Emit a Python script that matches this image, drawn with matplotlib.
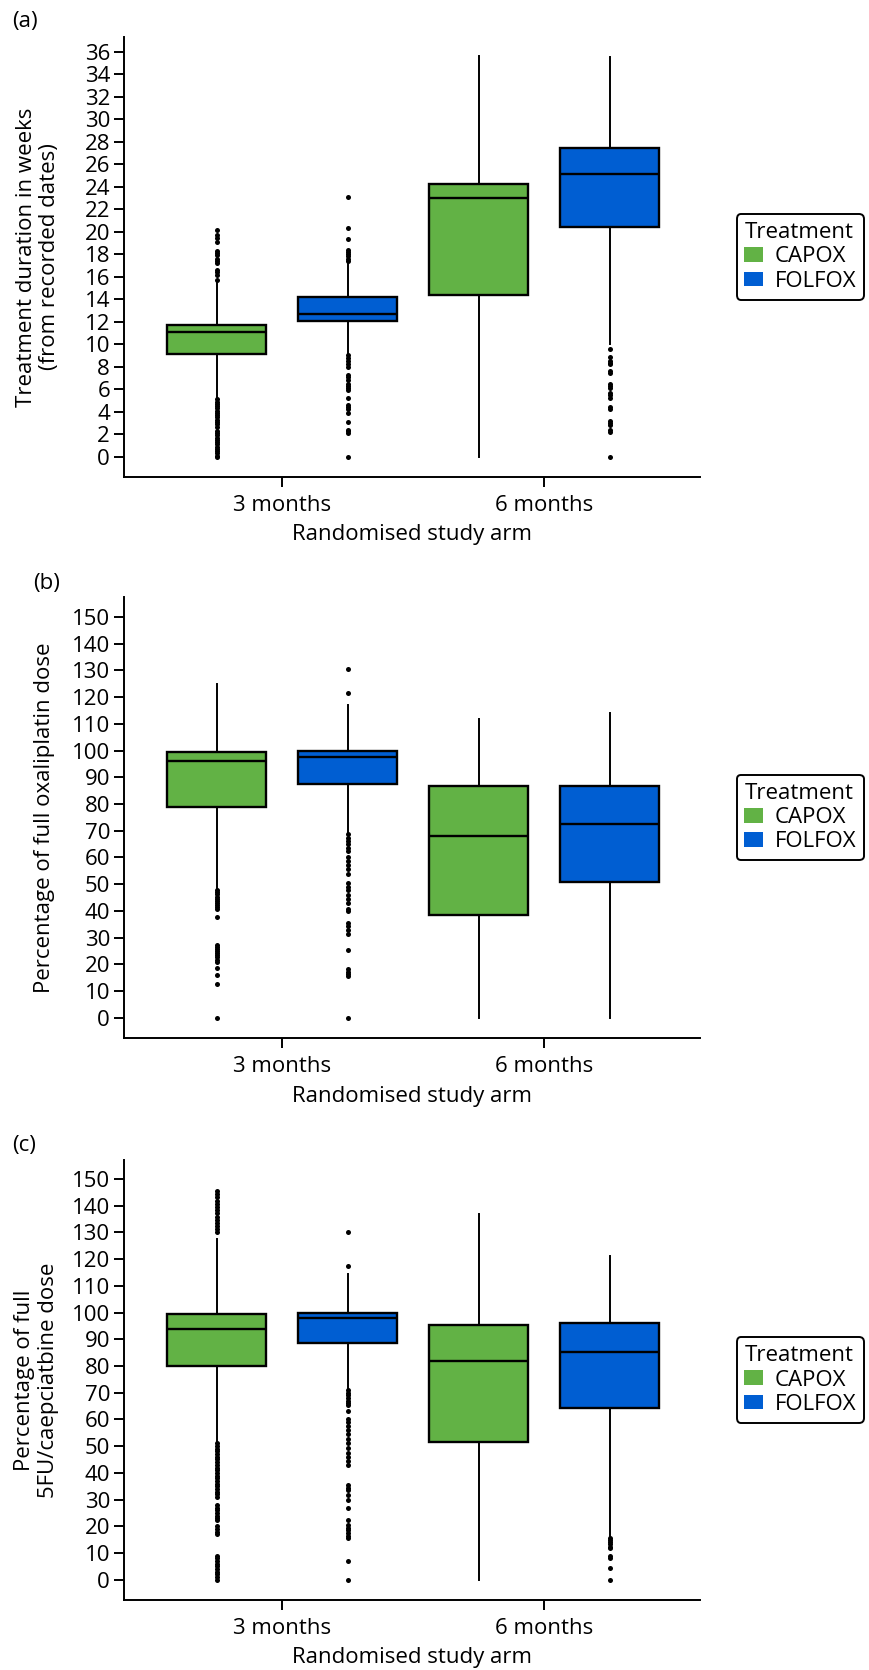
import matplotlib
matplotlib.use("Agg")
import matplotlib.pyplot as plt
from matplotlib.patches import Patch

plt.rcParams['font.family'] = ['Open Sans', 'DejaVu Sans']

# ---------------- data ----------------
arms = ["3 months", "6 months"]
treatments = ["CAPOX", "FOLFOX"]
colors = {"CAPOX": "#62B245", "FOLFOX": "#005ED2"}

# Panel (a): treatment duration in weeks
a_q1 = {"CAPOX": [9.1, 14.4], "FOLFOX": [12.1, 20.4]}
a_med = {"CAPOX": [11.1, 23.0], "FOLFOX": [12.7, 25.1]}
a_q3 = {"CAPOX": [11.7, 24.2], "FOLFOX": [14.15, 27.4]}
a_lo = {"CAPOX": [5.2, 0.0], "FOLFOX": [9.1, 10.0]}
a_hi = {"CAPOX": [15.5, 35.6], "FOLFOX": [17.2, 35.5]}
a_out = {
    "CAPOX": [
        [20.1, 19.7, 19.4, 19.1, 18.3, 18.1, 17.9, 17.6, 17.4, 17.2, 16.6, 16.4, 16.1, 15.7,
         5.1, 4.9, 4.7, 4.5, 4.3, 4.1, 3.9, 3.7, 3.5, 3.3, 3.1, 2.9, 2.6, 2.3, 2.1, 1.9,
         1.7, 1.5, 1.3, 1.1, 0.9, 0.7, 0.5, 0.3, 0.1, 0.0],
        [],
    ],
    "FOLFOX": [
        [23.1, 20.3, 19.3, 18.4, 18.2, 18.0, 17.8, 17.6, 17.4,
         9.0, 8.8, 8.5, 8.2, 8.0, 7.3, 7.1, 6.8, 6.5, 6.3, 6.1, 5.9, 5.2, 4.6, 4.4, 4.2,
         3.9, 3.1, 2.4, 2.3, 2.1, 0.0],
        [9.6, 8.9, 8.5, 8.3, 8.2, 7.6, 7.4, 6.5, 6.3, 6.1, 5.7, 5.5, 5.2, 4.4, 4.2,
         3.2, 3.0, 2.8, 2.4, 2.2, 0.0],
    ],
}

# Panel (b): percentage of full oxaliplatin dose
b_q1 = {"CAPOX": [78.8, 38.6], "FOLFOX": [87.4, 50.8]}
b_med = {"CAPOX": [95.9, 68.0], "FOLFOX": [97.7, 72.5]}
b_q3 = {"CAPOX": [99.5, 86.9], "FOLFOX": [99.9, 86.8]}
b_lo = {"CAPOX": [48.5, 0.0], "FOLFOX": [69.3, 0.0]}
b_hi = {"CAPOX": [125.0, 111.9], "FOLFOX": [117.0, 114.1]}
b_out = {
    "CAPOX": [
        [47.8, 47.0, 46.2, 45.4, 44.6, 43.8, 43.0, 42.2, 41.4, 40.6, 37.6,
         27.4, 26.6, 25.8, 25.0, 24.2, 23.4, 22.6, 21.8, 21.0, 18.6, 16.0, 12.6, 0.0],
        [],
    ],
    "FOLFOX": [
        [130.3, 121.4,
         68.7, 67.4, 66.2, 64.9, 63.6, 62.4, 60.1, 58.6, 57.1, 55.6, 54.0, 50.4, 49.1,
         47.9, 46.0, 44.5, 42.8, 40.9, 39.8, 35.6, 34.2, 32.7, 31.2, 25.4,
         18.4, 17.2, 16.4, 15.5, 0.0],
        [],
    ],
}

# Panel (c): percentage of full 5FU/capecitabine dose
c_q1 = {"CAPOX": [80.1, 51.5], "FOLFOX": [88.6, 64.2]}
c_med = {"CAPOX": [93.9, 81.8], "FOLFOX": [98.0, 85.3]}
c_q3 = {"CAPOX": [99.3, 95.2], "FOLFOX": [99.9, 96.1]}
c_lo = {"CAPOX": [51.5, 0.0], "FOLFOX": [71.5, 16.2]}
c_hi = {"CAPOX": [127.5, 137.0], "FOLFOX": [114.6, 121.0]}
c_out = {
    "CAPOX": [
        [145.5, 144.3, 143.1, 141.9, 140.7, 139.5, 138.3, 137.1, 135.9, 134.7, 133.5,
         132.3, 131.1, 130.0,
         51.0, 50.0, 49.0, 48.0, 47.0, 46.0, 45.0, 44.0, 43.0, 42.0, 41.0, 40.0, 39.0,
         38.0, 37.0, 36.0, 35.0, 34.0, 33.0, 32.0, 31.0,
         28.0, 27.0, 26.0, 25.0, 24.0, 23.0, 22.5, 20.0, 19.0, 18.0, 17.0,
         8.7, 8.0, 7.0, 6.0, 5.0, 4.0, 3.0, 2.0, 1.0, 0.0],
        [],
    ],
    "FOLFOX": [
        [130.3, 117.3,
         71.0, 70.0, 69.0, 68.0, 67.0, 66.0, 65.5, 63.2, 60.1, 59.0, 57.5, 56.0, 54.4,
         52.5, 51.0, 49.4, 47.5, 46.0, 44.5, 43.1, 35.6, 34.5, 33.4, 31.8, 29.9, 26.8,
         22.4, 20.5, 19.5, 18.6, 17.4, 16.5, 15.8, 7.0, 0.0],
        [15.6, 14.8, 14.0, 13.2, 12.4, 11.8, 8.7, 8.0, 4.3, 0.0],
    ],
}

panels = [
    dict(tag="(a)", q1=a_q1, med=a_med, q3=a_q3, lo=a_lo, hi=a_hi, out=a_out,
         ylabel="Treatment duration in weeks\n(from recorded dates)",
         yticks=list(range(0, 37, 2)), ylim=(-1.8, 37.3),
         rect=[0.1427, 0.7144, 0.6628, 0.2635], tagpos=(12, 22), labx=-0.149),
    dict(tag="(b)", q1=b_q1, med=b_med, q3=b_q3, lo=b_lo, hi=b_hi, out=b_out,
         ylabel="Percentage of full oxaliplatin dose",
         yticks=list(range(0, 151, 10)), ylim=(-7.6, 157.4),
         rect=[0.1427, 0.3783, 0.6628, 0.2642], tagpos=(33, 583), labx=-0.138),
    dict(tag="(c)", q1=c_q1, med=c_med, q3=c_q3, lo=c_lo, hi=c_hi, out=c_out,
         ylabel="Percentage of full\n5FU/caepciatbine dose",
         yticks=list(range(0, 151, 10)), ylim=(-7.6, 157.1),
         rect=[0.1427, 0.0419, 0.6628, 0.2635], tagpos=(12, 1145), labx=-0.152),
]

W, H = 869, 1670
fig = plt.figure(figsize=(W / 100, H / 100), dpi=100)

offsets = {"CAPOX": -0.25, "FOLFOX": 0.25}
FS = 16

for p in panels:
    ax = fig.add_axes(p["rect"])
    for t in treatments:
        for i, arm in enumerate(arms):
            st = dict(med=p["med"][t][i], q1=p["q1"][t][i], q3=p["q3"][t][i],
                      whislo=p["lo"][t][i], whishi=p["hi"][t][i],
                      fliers=p["out"][t][i])
            ax.bxp([st], positions=[i + offsets[t]], widths=0.38,
                   patch_artist=True, showcaps=False,
                   boxprops=dict(facecolor=colors[t], edgecolor="black", linewidth=1.7),
                   medianprops=dict(color="black", linewidth=1.7),
                   whiskerprops=dict(color="black", linewidth=1.4),
                   flierprops=dict(marker="o", markersize=3.6,
                                   markerfacecolor="black", markeredgecolor="none"),
                   manage_ticks=False)
    ax.set_xlim(-0.603, 1.595)
    ax.set_ylim(*p["ylim"])
    ax.set_yticks(p["yticks"])
    ax.set_xticks([0, 1])
    ax.set_xticklabels(arms)
    for s in ["top", "right"]:
        ax.spines[s].set_visible(False)
    for s in ["left", "bottom"]:
        ax.spines[s].set_linewidth(1.4)
    ax.tick_params(axis="both", labelsize=FS, width=1.4, length=7, pad=3)
    ax.tick_params(axis="x", pad=6)
    ax.set_xlabel("Randomised study arm", fontsize=FS, labelpad=6)
    ax.set_ylabel(p["ylabel"], fontsize=FS, multialignment="center",
                  va="center", ha="center", linespacing=1.15)
    ax.yaxis.set_label_coords(p["labx"], 0.5)
    handles = [Patch(facecolor=colors[t], edgecolor="none", label=t) for t in treatments]
    leg = ax.legend(handles=handles, title="Treatment", loc="center left",
                    bbox_to_anchor=(1.0637, 0.5), borderaxespad=0, fontsize=FS,
                    title_fontsize=FS, frameon=True, fancybox=True,
                    handlelength=0.85, handleheight=0.62, handletextpad=0.5,
                    labelspacing=0.15, borderpad=0.35, alignment="left")
    fr = leg.get_frame()
    fr.set_edgecolor("black")
    fr.set_linewidth(1.4)
    fr.set_alpha(1)
    fig.text(p["tagpos"][0] / W, 1 - p["tagpos"][1] / H, p["tag"], fontsize=FS,
             ha="left", va="center")

fig.savefig("out.png", dpi=100)
